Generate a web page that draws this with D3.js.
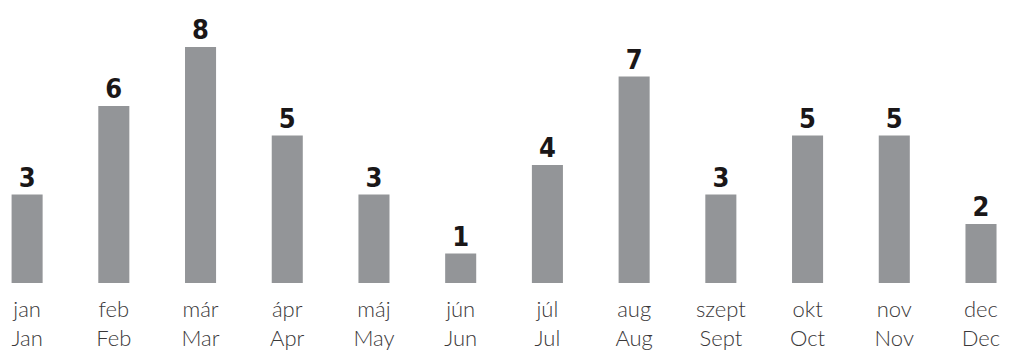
<!DOCTYPE html>
<html>
<head>
<meta charset="utf-8">
<script src="https://cdn.jsdelivr.net/npm/d3@7"></script>
<style>
  html, body { margin: 0; padding: 0; background: #fff; }
  svg { display: block; }
</style>
</head>
<body>
<svg id="chart" width="1012" height="351"></svg>
<script>
// Monthly counts with bilingual month labels
const monthsHu = ["jan", "feb", "már", "ápr", "máj", "jún", "júl", "aug", "szept", "okt", "nov", "dec"];
const monthsEn = ["Jan", "Feb", "Mar", "Apr", "May", "Jun", "Jul", "Aug", "Sept", "Oct", "Nov", "Dec"];
const counts = [3, 6, 8, 5, 3, 1, 4, 7, 3, 5, 5, 2];

const svg = d3.select("#chart");
const baseY = 283;

const x = d3.scaleBand()
  .domain(monthsHu)
  .range([-15.3, 1023.4])
  .paddingInner(0.642)
  .paddingOuter(0.31);

const y = d3.scaleLinear()
  .domain([0, 8])
  .range([baseY, 47]);

// bars
svg.append("g")
  .selectAll("rect")
  .data(counts)
  .join("rect")
  .attr("x", (d, i) => x(monthsHu[i]))
  .attr("y", d => y(d))
  .attr("width", x.bandwidth())
  .attr("height", d => baseY - y(d))
  .attr("fill", "#939598");

// value labels
svg.append("g")
  .selectAll("text")
  .data(counts)
  .join("text")
  .attr("x", (d, i) => x(monthsHu[i]) + x.bandwidth() / 2)
  .attr("y", d => y(d) - 8)
  .attr("text-anchor", "middle")
  .attr("font-family", "'DejaVu Sans Condensed', 'DejaVu Sans', sans-serif")
  .attr("font-weight", "bold")
  .attr("font-size", 27)
  .attr("fill", "#1a1718")
  .text(d => d);

// month labels (Hungarian over English)
const labels = svg.append("g")
  .attr("font-family", "Lato, 'Open Sans', sans-serif")
  .attr("font-weight", 300)
  .attr("font-size", 22)
  .attr("fill", "#3a3839")
  .attr("text-anchor", "middle");

labels.selectAll("text.hu")
  .data(monthsHu)
  .join("text")
  .attr("class", "hu")
  .attr("x", d => x(d) + x.bandwidth() / 2)
  .attr("y", 317)
  .text(d => d);

labels.selectAll("text.en")
  .data(monthsEn)
  .join("text")
  .attr("class", "en")
  .attr("x", (d, i) => x(monthsHu[i]) + x.bandwidth() / 2)
  .attr("y", 346)
  .text(d => d);
</script>
</body>
</html>
